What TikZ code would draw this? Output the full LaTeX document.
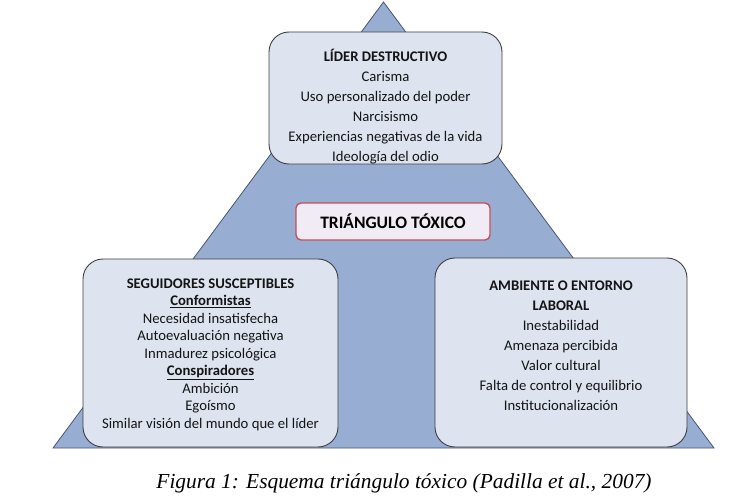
\documentclass[tikz,border=0pt]{standalone}
\usepackage{fontspec}
\setmainfont{Carlito}
\newfontfamily\captionfont{Liberation Serif}
\usetikzlibrary{positioning}
\definecolor{triblue}{RGB}{152,173,210}
\definecolor{triedge}{RGB}{72,86,110}
\definecolor{boxfill}{RGB}{221,228,240}
\definecolor{boxedge}{RGB}{62,62,62}
\definecolor{alertred}{RGB}{196,80,90}
\definecolor{pinkfill}{RGB}{241,235,245}

\begin{document}
\begin{tikzpicture}[
    x=1pt, y=-1pt,
    factor/.style={rectangle, draw=boxedge, fill=boxfill, rounded corners=20pt, line width=0.9pt},
    title/.style={rectangle, draw=alertred, fill=pinkfill, rounded corners=5pt, line width=1.4pt, font=\fontsize{17.5}{20}\selectfont\bfseries},
    items/.style={align=center, inner sep=0pt, text=black!92}
]
    \useasboundingbox (0,0) rectangle (740,503);

    % Triangle behind
    \coordinate (apex) at (383.5,2);
    \coordinate (bl) at (53,448);
    \coordinate (br) at (714,448);
    \draw[fill=triblue, draw=triedge, line width=0.8pt] (apex) -- (br) -- (bl) -- cycle;

    % Boxes
    \node[factor, minimum width=233pt, minimum height=132pt] (leader) at (385.5,98) {};
    \node[factor, minimum width=255pt, minimum height=188pt] (followers) at (210.5,353) {};
    \node[factor, minimum width=252pt, minimum height=189pt] (setting) at (561,352.5) {};
    \node[title, minimum width=194pt, minimum height=37pt] (toxic) at (393,221.5) {TRIÁNGULO TÓXICO};

    % Contents
    \node[items, font=\fontsize{14.7}{20}\selectfont, below=17pt of leader.north] (leadertext)
        {\textbf{LÍDER DESTRUCTIVO}\\Carisma\\Uso personalizado del poder\\Narcisismo\\Experiencias negativas de la vida\\Ideología del odio};
    \node[items, font=\fontsize{14.7}{17.5}\selectfont, below=20pt of followers.north] (followerstext)
        {\textbf{SEGUIDORES SUSCEPTIBLES}\\\textbf{\underline{Conformistas}}\\Necesidad insatisfecha\\Autoevaluación negativa\\Inmadurez psicológica\\\textbf{\underline{Conspiradores}}\\Ambición\\Egoísmo\\Similar visión del mundo que el líder};
    \node[items, font=\fontsize{14.7}{20}\selectfont, below=23pt of setting.north] (settingtext)
        {\textbf{AMBIENTE O ENTORNO}\\\textbf{LABORAL}\\Inestabilidad\\Amenaza percibida\\Valor cultural\\Falta de control y equilibrio\\Institucionalización};

    % Caption
    \node[font=\captionfont\itshape\fontsize{21.4}{24}\selectfont] (caption) at (404,483)
        {Figura 1: Esquema triángulo tóxico (Padilla et al., 2007)};
\end{tikzpicture}
\end{document}
